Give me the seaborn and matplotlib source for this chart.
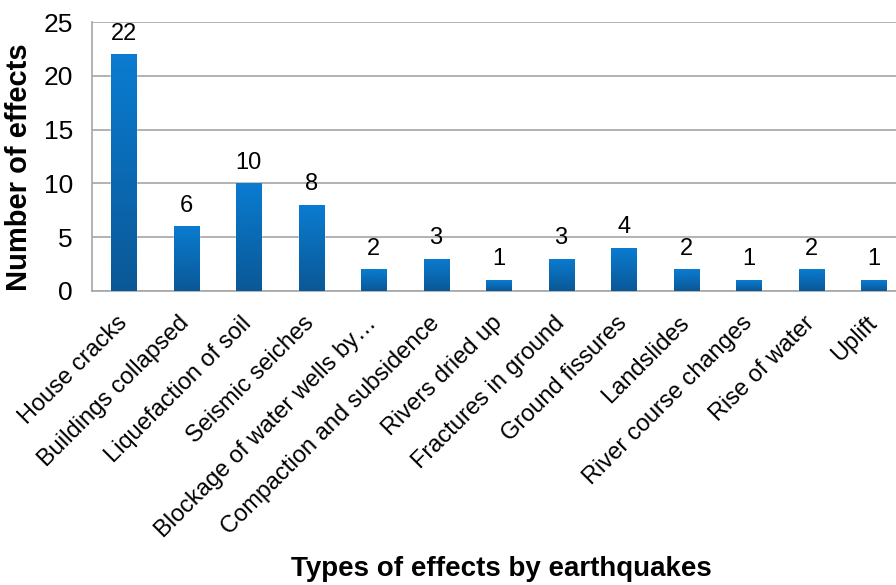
import matplotlib
matplotlib.use("Agg")
import matplotlib.pyplot as plt
import seaborn as sns
import numpy as np
from matplotlib.colors import LinearSegmentedColormap

categories = ["House cracks", "Buildings collapsed", "Liquefaction of soil", "Seismic seiches",
              "Blockage of water wells by…", "Compaction and subsidence", "Rivers dried up",
              "Fractures in ground", "Ground fissures", "Landslides", "River course changes",
              "Rise of water", "Uplift"]
counts = [22, 6, 10, 8, 2, 3, 1, 3, 4, 2, 1, 2, 1]

sns.set_style("white")
plt.rcParams['font.family'] = ['Liberation Sans', 'DejaVu Sans']
plt.rcParams['text.color'] = 'black'
plt.rcParams['axes.labelcolor'] = 'black'
plt.rcParams['xtick.color'] = 'black'
plt.rcParams['ytick.color'] = 'black'

fig = plt.figure(figsize=(8.96, 5.85), dpi=100)
# the plot area runs slightly past the right edge of the picture, as in the original
ax = fig.add_axes([0.103, 0.503, 0.907, 0.459])

sns.barplot(x=categories, y=counts, color="#0b72c0", width=0.4, ax=ax, zorder=3)

# gradient fill on each bar: lighter top, darker bottom
cmap = LinearSegmentedColormap.from_list("blu", ["#0a5896", "#0a7cd1"])
grad = np.linspace(0, 1, 256).reshape(-1, 1)
for bar in ax.patches:
    x0, y0 = bar.get_x(), bar.get_y()
    w, h = bar.get_width(), bar.get_height()
    im = ax.imshow(grad, cmap=cmap, aspect="auto", origin="lower",
                   extent=[x0, x0 + w, y0, y0 + h], zorder=4)
    im.set_clip_path(bar)
    ax.text(x0 + w / 2, h + 0.9, str(int(h)), ha="center", va="bottom", fontsize=17)

ax.set_xlim(-0.5, len(categories) - 0.5)
ax.set_ylim(0, 25)
ax.set_yticks(range(0, 26, 5))
ax.yaxis.grid(True, color="#a6a6a6", linewidth=1.2, zorder=0)
ax.set_axisbelow(True)

for side in ["top", "right"]:
    ax.spines[side].set_visible(False)
ax.spines["left"].set_color("#a6a6a6")
ax.spines["bottom"].set_color("#a6a6a6")
ax.spines["left"].set_linewidth(1.2)
ax.spines["bottom"].set_linewidth(1.2)

ax.set_xticks(np.arange(len(categories)))
ax.set_xticklabels(categories, rotation=45, ha="right", va="center",
                   rotation_mode="anchor", fontsize=17)
ax.tick_params(axis="x", length=0, pad=21)
ax.set_xticks(np.arange(len(categories) + 1) - 0.5, minor=True)
ax.tick_params(axis="x", which="minor", length=6, color="#a6a6a6", width=1.2, direction="out")
ax.tick_params(axis="y", labelsize=19, length=0, pad=14)

ax.set_ylabel("Number of effects", fontsize=21, fontweight="bold")
ax.yaxis.set_label_coords(-0.073, 0.46)
fig.text(0.56, 0.005, "Types of effects by earthquakes", ha="center", va="bottom",
         fontsize=20, fontweight="bold")

fig.savefig("out.png", dpi=100, facecolor="white")
